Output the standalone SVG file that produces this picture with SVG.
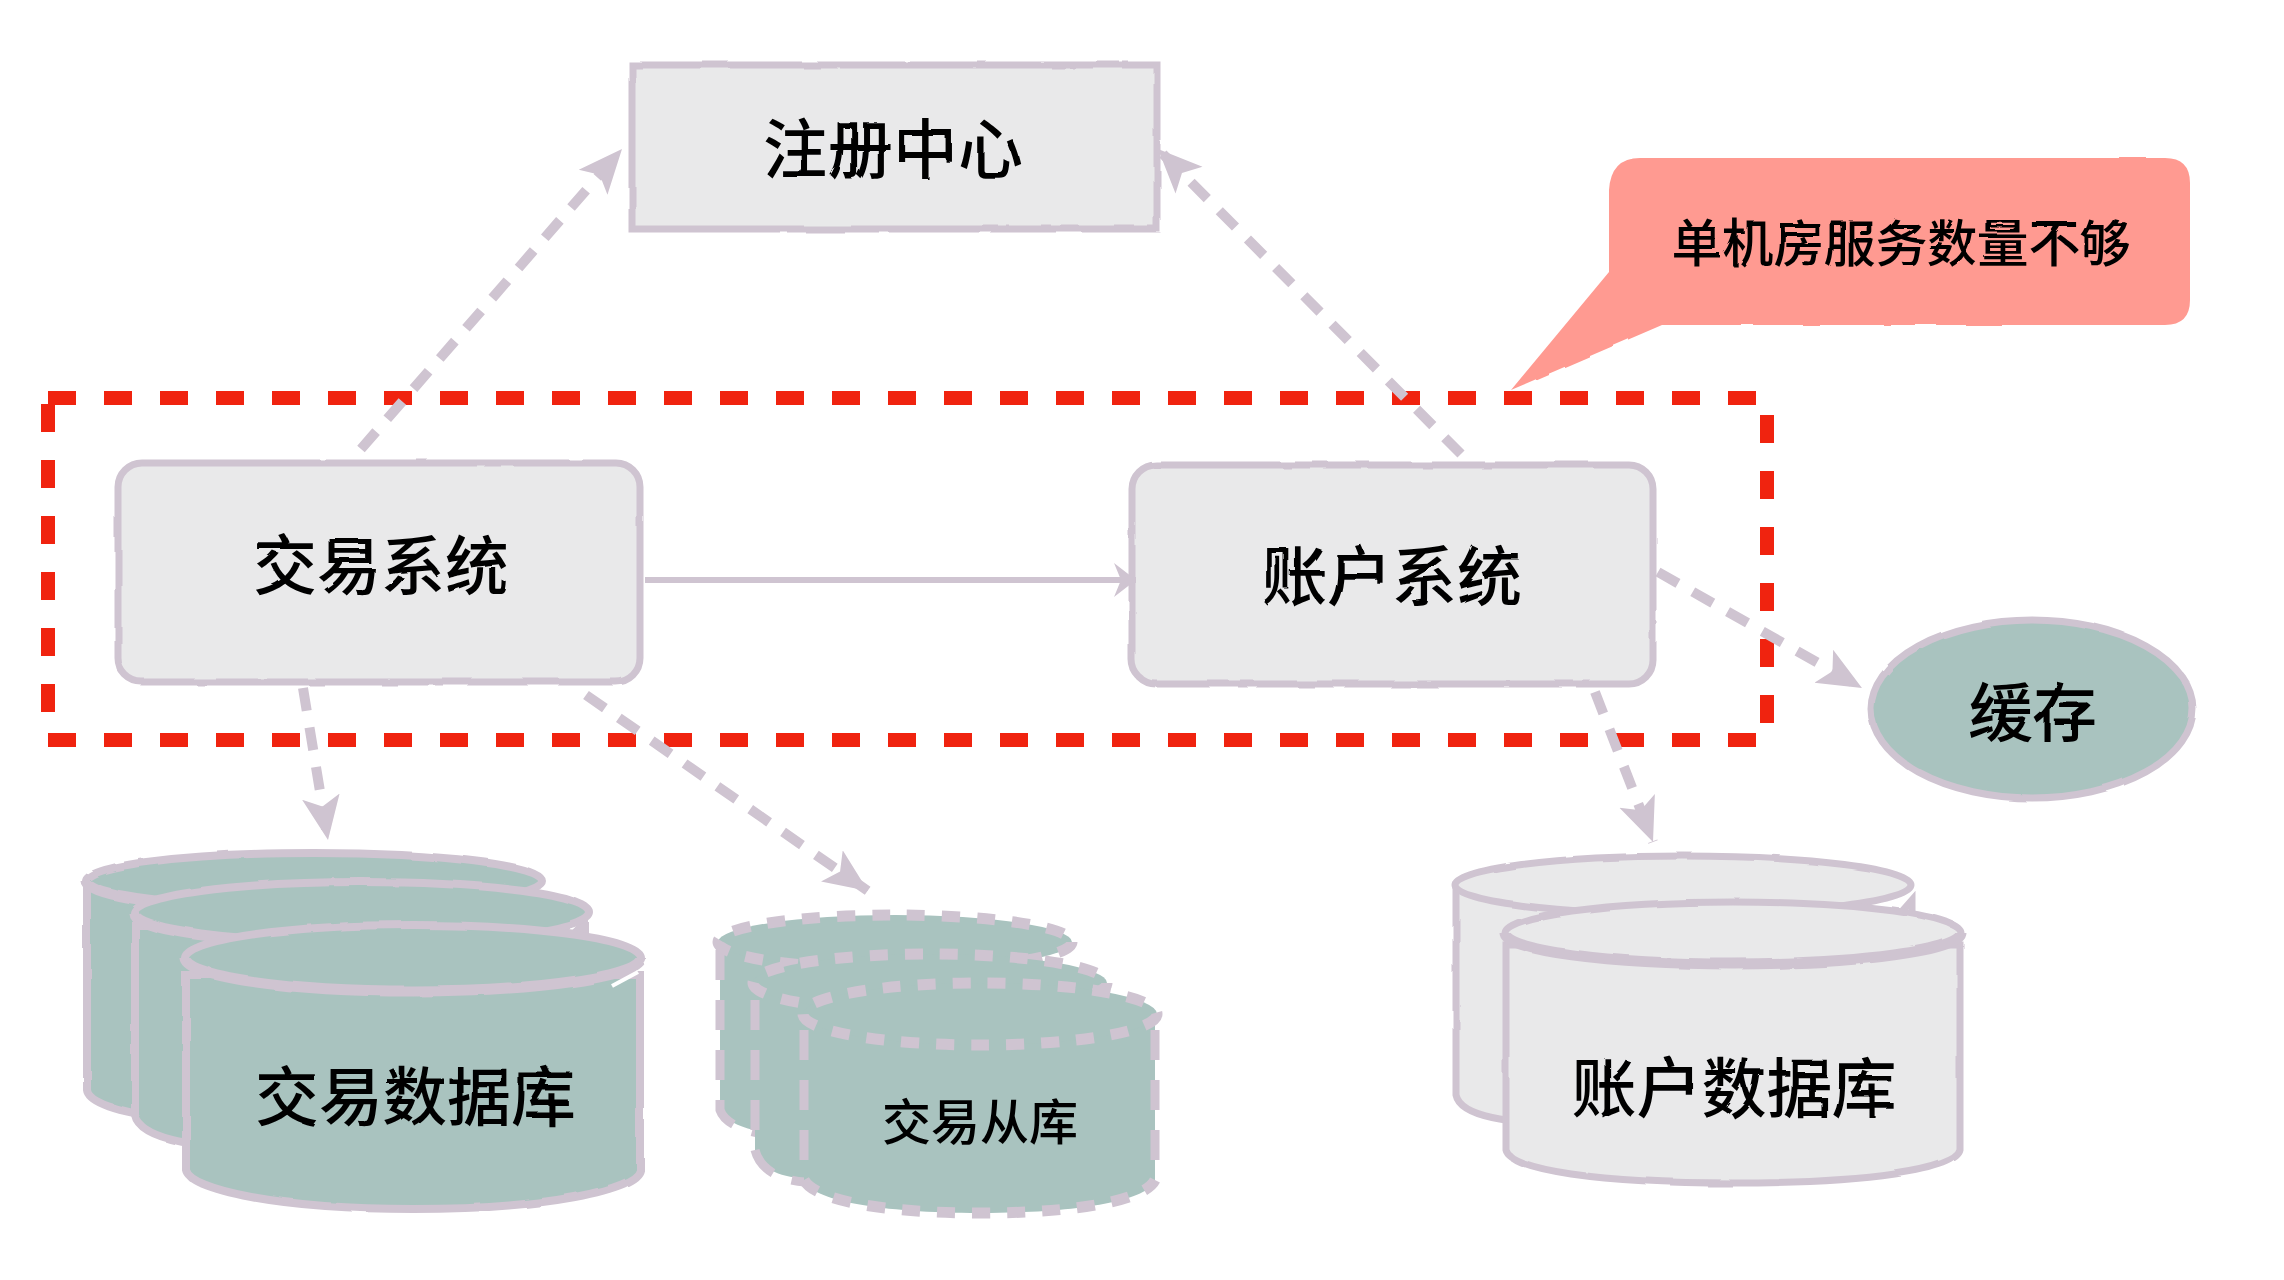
<svg xmlns="http://www.w3.org/2000/svg" width="2284" height="1280" viewBox="0 0 2284 1280">
<style>
text{font-family:"Noto Sans CJK SC","Noto Sans",sans-serif;fill:#000;font-weight:500;text-anchor:middle;dominant-baseline:central}
.b{fill:#e9e9ea;stroke:#cfc4d1;stroke-width:7}
.t{fill:#a9c3bf;stroke:#cfc4d1;stroke-width:8}
.d{fill:#a9c3bf;stroke:#cfc4d1;stroke-width:11;stroke-dasharray:18 17}
.f{fill:#a9c3bf;stroke:none}
.v{fill:none;stroke:#cfc4d1;stroke-width:9;stroke-dasharray:30 20}
.w{fill:#e9e9ea;stroke:#cfc4d1;stroke-width:7}
.l{fill:none;stroke:#cfc4d1;stroke-width:11}
.n{fill:none;stroke:#fff;stroke-width:4}
.c{fill:none;stroke:#cfc4d1;stroke-width:10;stroke-dasharray:23 17;marker-end:url(#a)}
.s{fill:none;stroke:#cfc4d1;stroke-width:6;marker-end:url(#o)}
</style>
<defs>
<filter id="r" x="-3%" y="-3%" width="106%" height="106%"><feTurbulence type="fractalNoise" baseFrequency="0.02" numOctaves="3" seed="3"/><feDisplacementMap in="SourceGraphic" scale="3"/></filter>
<marker id="a" markerUnits="userSpaceOnUse" markerWidth="50" markerHeight="44" refX="44" refY="22" orient="auto"><path d="M0 3L44 22L0 41L10 22Z" fill="#cfc4d1"/></marker>
<marker id="o" markerUnits="userSpaceOnUse" markerWidth="34" markerHeight="40" refX="28" refY="20" orient="auto"><path d="M6 3L28 20L6 37L13 20Z" fill="#cfc4d1"/></marker>
</defs>
<g id="boundary"><rect x="48" y="398" width="1719" height="342" fill="none" stroke="#f0230f" stroke-width="14" stroke-dasharray="28 28"/></g>
<g id="registry" filter="url(#r)"><rect class="b" x="632" y="65" width="525" height="164"/><text x="893" y="145" font-size="65">注册中心</text></g>
<g id="trade-system" filter="url(#r)"><rect class="b" x="118" y="463" width="522" height="219" rx="24"/><text x="381" y="561" font-size="64">交易系统</text></g>
<g id="account-system" filter="url(#r)"><rect class="b" x="1132" y="465" width="521" height="219" rx="24"/><text x="1392" y="572" font-size="65">账户系统</text></g>
<g id="callout" filter="url(#r)"><path d="M1640 158H2165Q2190 158 2190 183V300Q2190 325 2165 325H1662L1511 390L1609 272V190Q1611 158 1640 158Z" fill="#ff9a91"/><text x="1901" y="240" font-size="51">单机房服务数量不够</text></g>
<g id="cache" filter="url(#r)"><ellipse cx="2032" cy="709" rx="161" ry="89" fill="#a9c3bf" stroke="#cfc4d1" stroke-width="7"/><text x="2033" y="708" font-size="64">缓存</text></g>
<g id="trade-db" filter="url(#r)">
<path class="t" d="M87 885V1090C90 1115 200 1125 300 1125H400V885Z"/><ellipse class="t" cx="314" cy="881" rx="228" ry="28"/><path class="l" d="M86 881A228 28 0 0 0 542 881" stroke-dasharray="150 600"/>
<path class="t" d="M135 925V1115C140 1140 200 1150 300 1150H500V925Z"/><path class="t" d="M585 925V950H560Z"/><ellipse class="t" cx="362" cy="913" rx="228" ry="31"/><path class="l" d="M134 913A228 31 0 0 0 590 913" stroke-dasharray="150 600"/>
<path class="t" d="M186 975V1170C190 1190 280 1209 413 1209S636 1190 640 1170V975Z"/><ellipse class="t" cx="413" cy="958" rx="228" ry="33"/><path class="l" d="M185 958A228 33 0 0 0 641 958"/><path class="n" d="M612 986L638 972"/>
<text x="415" y="1092" font-size="64">交易数据库</text></g>
<g id="trade-replica">
<path class="f" d="M720 945V1110C725 1125 760 1135 800 1135H1000V945Z"/><path class="v" d="M720 950V1110C725 1125 750 1133 770 1135"/><ellipse class="d" cx="895" cy="942" rx="177" ry="27"/>
<path class="f" d="M755 985V1150C760 1170 780 1180 830 1180H1050V985Z"/><path class="v" d="M755 1000V1150C760 1170 780 1180 805 1182"/><ellipse class="d" cx="930" cy="983" rx="177" ry="29"/>
<path class="f" d="M804 1020V1180C810 1200 880 1213 980 1213S1150 1200 1155 1180V1020Z"/><path class="v" d="M804 1030V1180"/><path class="v" d="M1155 1030V1180"/><path class="d" d="M804 1180C815 1200 880 1213 980 1213S1145 1200 1155 1180" fill="none" style="fill:none"/><ellipse class="d" cx="980" cy="1014" rx="177" ry="31"/>
<text x="980" y="1118" font-size="49">交易从库</text></g>
<g id="account-db" filter="url(#r)">
<path class="w" d="M1456 885V1095C1460 1115 1500 1125 1600 1125H1800V885Z"/><path class="w" d="M1912 900V925H1890Z"/><ellipse class="w" cx="1683" cy="885" rx="228" ry="29"/>
<path class="w" d="M1506 945V1150C1510 1170 1600 1183 1733 1183S1956 1170 1960 1150V945Z"/><ellipse class="w" cx="1733" cy="933" rx="228" ry="31"/><path class="l" d="M1505 933A228 31 0 0 0 1961 933"/>
<text x="1734" y="1084" font-size="65">账户数据库</text></g>
<g id="connectors">
<path class="c" d="M361 449L622 149"/><path class="c" d="M1461 454L1158 149"/><path class="s" d="M645 580H1136"/><path class="c" d="M1658 572L1862 688"/><path class="c" d="M1595 692L1653 842"/><path class="c" d="M303 688L328 840"/><path class="c" d="M586 695L868 891"/>
</g>
</svg>
